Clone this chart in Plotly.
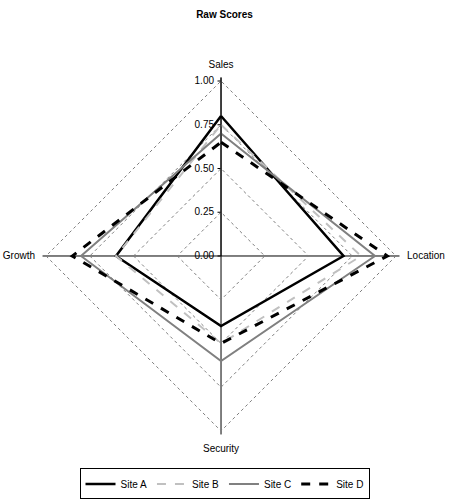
import plotly.graph_objects as go

categories = ['Sales', 'Location', 'Security', 'Growth']
site_a = [0.80, 0.70, 0.40, 0.60]
site_b = [0.75, 0.80, 0.50, 0.60]
site_c = [0.70, 0.88, 0.60, 0.80]
site_d = [0.65, 0.95, 0.50, 0.85]
tick_vals = [0, 0.25, 0.5, 0.75, 1.0]

series = [('Site A', site_a, 'black', 'solid', 2.5),
          ('Site B', site_b, '#c0c0c0', 'dash', 2),
          ('Site C', site_c, '#808080', 'solid', 2),
          ('Site D', site_d, 'black', 'dash', 3)]

fig = go.Figure()
for name, vals, color, dash, width in series:
    fig.add_trace(go.Scatterpolar(r=vals + vals[:1], theta=categories + categories[:1],
                                  mode='lines', name=name,
                                  line=dict(color=color, dash=dash, width=width)))

fig.update_layout(
    width=449, height=502,
    margin=dict(l=0, r=0, t=0, b=0),
    paper_bgcolor='white',
    font=dict(family='Liberation Sans, Arial', size=10, color='black'),
    title=dict(text='<b>Raw Scores</b>', x=0.5, xanchor='center', y=0.972, yanchor='middle',
               font=dict(size=10)),
    polar=dict(
        domain=dict(x=[0.0947, 0.8898], y=[0.1345, 0.8456]),
        bgcolor='white',
        gridshape='linear',
        radialaxis=dict(range=[0, 1.02], tickvals=tick_vals, tickformat='.2f', angle=90,
                        tickangle=90, side='counterclockwise',
                        showline=True, linecolor='black', linewidth=1,
                        gridcolor='#808080', griddash='3px,3px', gridwidth=1,
                        ticks='outside', ticklen=3, tickcolor='black'),
        angularaxis=dict(direction='clockwise', rotation=90, showline=False,
                         gridcolor='black', gridwidth=1,
                         ticks='outside', ticklen=5, tickcolor='rgba(0,0,0,0)',
                         tickfont=dict(size=10))),
    legend=dict(orientation='h', x=0.5, xanchor='center', y=0.0359, yanchor='middle',
                bordercolor='black', borderwidth=1, font=dict(size=10),
                itemwidth=30, tracegroupgap=0)
)

# drop the default page margin so the figure fills the window
fig.write_html('out.html', config={'displayModeBar': False},
               post_script="document.body.style.margin='0';")
